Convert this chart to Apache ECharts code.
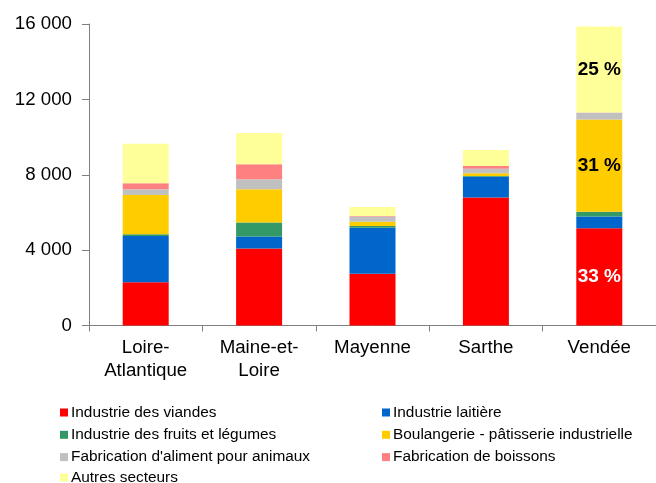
<!DOCTYPE html>
<html>
<head>
<meta charset="utf-8">
<script src="https://cdn.jsdelivr.net/npm/echarts@6/dist/echarts.min.js"></script>
<style>html,body{margin:0;padding:0;background:#fff}#c{width:656px;height:483px}</style>
</head>
<body>
<div id="c"></div>
<script>
const categories = ['Loire-\nAtlantique', 'Maine-et-\nLoire', 'Mayenne', 'Sarthe', 'Vendée'];
const yTicks = [0, 4000, 8000, 12000, 16000];
const seriesNames = ['Industrie des viandes', 'Industrie laitière', 'Industrie des fruits et légumes',
  'Boulangerie - pâtisserie industrielle', "Fabrication d'aliment pour animaux", 'Fabrication de boissons', 'Autres secteurs'];
const viandes = [2300, 4080, 2750, 6790, 5160];
const laitiere = [2450, 640, 2440, 1110, 620];
const fruits = [90, 740, 90, 30, 250];
const boulangerie = [2090, 1770, 230, 150, 4900];
const aliment = [300, 530, 270, 245, 355];
const boissons = [320, 800, 30, 145, 25];
const autres = [2090, 1650, 485, 850, 4560];
// percentage labels shown on the Vendée bar
const labelsViandes = ['', '', '', '', '33 %'];
const labelsBoulangerie = ['', '', '', '', '31 %'];
const labelsAutres = ['', '', '', '', '25 %'];

const colors = ['#FF0000', '#0066CC', '#339966', '#FFCC00', '#C0C0C0', '#FF8080', '#FFFF99'];
const values = [viandes, laitiere, fruits, boulangerie, aliment, boissons, autres];
const labelSets = [labelsViandes, null, null, labelsBoulangerie, null, null, labelsAutres];
const labelColors = ['#FFFFFF', null, null, '#000000', null, null, '#000000'];

const font = 'Liberation Sans, Arial, sans-serif';
const series = seriesNames.map((name, i) => ({
  name: name,
  type: 'bar',
  stack: 'total',
  barWidth: 46,
  itemStyle: { color: colors[i] },
  data: values[i].map((v, j) => {
    const item = { value: v };
    if (labelSets[i] && labelSets[i][j]) {
      item.label = {
        show: true, position: 'inside', formatter: labelSets[i][j],
        color: labelColors[i], fontSize: 19, fontWeight: 'bold', fontFamily: font
      };
    }
    return item;
  })
}));

const legendText = { fontSize: 15.4, fontFamily: font, color: '#000', lineHeight: 15, padding: [0, 0, 0, -2] };
function mkLegend(left, top, names) {
  return {
    orient: 'vertical', left: left, top: top, itemWidth: 8, itemHeight: 8, itemGap: 7.3,
    icon: 'rect', data: names, textStyle: legendText
  };
}

const chart = echarts.init(document.getElementById('c'), null, { renderer: 'canvas' });
chart.setOption({
  animation: false,
  color: colors,
  grid: { left: 89, top: 24, width: 576, height: 301.5, containLabel: false },
  xAxis: {
    type: 'category',
    data: categories,
    axisLine: { lineStyle: { color: '#808080', width: 1 } },
    axisTick: { show: true, inside: false, length: 6, lineStyle: { color: '#808080' } },
    axisLabel: { color: '#000', fontSize: 18.7, fontFamily: font, margin: 11, lineHeight: 23, interval: 0 }
  },
  yAxis: {
    type: 'value',
    min: yTicks[0], max: yTicks[yTicks.length - 1], interval: yTicks[1] - yTicks[0],
    splitLine: { show: false },
    axisLine: { show: true, lineStyle: { color: '#808080', width: 1 } },
    axisTick: { show: true, inside: false, length: 7, lineStyle: { color: '#808080' } },
    axisLabel: {
      color: '#000', fontSize: 18.7, fontFamily: font, margin: 17,
      formatter: v => String(v).replace(/\B(?=(\d{3})+(?!\d))/g, ' ')
    }
  },
  legend: [
    mkLegend(55, 400, [seriesNames[0], seriesNames[2], seriesNames[4]]),
    mkLegend(55, 465, [seriesNames[6]]),
    mkLegend(377, 400, [seriesNames[1], seriesNames[3], seriesNames[5]])
  ],
  series: series
});
</script>
</body>
</html>
